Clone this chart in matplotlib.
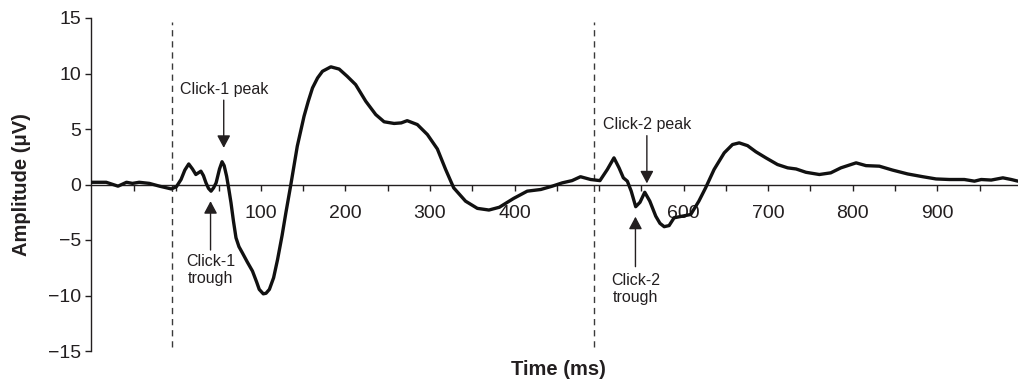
import numpy as np
import matplotlib
matplotlib.use("Agg")
import matplotlib.pyplot as plt

plt.rcParams['font.family'] = ['Liberation Sans', 'DejaVu Sans']

# waveform (time in ms, amplitude in microvolts)
time_ms = [
    -101, -83, -69, -59, -52, -44, -32, -20, -6, 0,
    5.5, 10, 14.6, 19, 23, 29, 32, 35, 38, 41,
    44, 47, 51, 54, 56.5, 59.4, 62, 64.6, 67.5, 70.5,
    74, 78, 84, 90, 95, 98, 102.8, 106, 110, 115,
    119.7, 125, 129.5, 135.4, 143, 151, 156, 161, 167, 172.8,
    182.7, 192.5, 202, 212, 224, 235.8, 245.7, 257.5, 266, 273,
    285, 296.9, 308.7, 318.5, 328, 342, 356, 369.7, 382, 399,
    415, 431, 444.6, 456.5, 468, 478, 490, 501, 509.7, 517.6,
    523.6, 528.7, 533.4, 538, 543.3, 548.4, 554, 560, 567, 572,
    577, 582.8, 588.7, 598.6, 608.4, 618, 626, 636, 648, 657.8,
    665.7, 675.6, 685.4, 697.3, 711, 723, 733, 744.7, 760.5, 774,
    786, 804, 815.7, 831.5, 847, 865, 883, 898.6, 914.4, 932,
    944, 952, 963.8, 977.6, 987.5, 995.5,
]
amplitude_uv = [
    0.2, 0.2, -0.15, 0.2, 0.1, 0.2, 0.1, -0.15, -0.4, -0.2,
    0.45, 1.3, 1.85, 1.4, 0.9, 1.2, 0.8, 0.15, -0.35, -0.6,
    -0.3, 0.15, 1.4, 2.05, 1.7, 0.75, -0.4, -1.65, -3.3, -4.8,
    -5.6, -6.15, -7.0, -7.8, -8.8, -9.45, -9.85, -9.8, -9.45, -8.4,
    -6.75, -4.6, -2.55, 0.0, 3.45, 6.15, 7.5, 8.7, 9.6, 10.2,
    10.6, 10.4, 9.75, 9.0, 7.5, 6.3, 5.65, 5.5, 5.55, 5.75,
    5.4, 4.5, 3.2, 1.35, -0.3, -1.5, -2.15, -2.3, -2.05, -1.25,
    -0.6, -0.45, -0.15, 0.15, 0.35, 0.7, 0.45, 0.35, 1.35, 2.4,
    1.5, 0.6, 0.3, -0.6, -2.0, -1.6, -0.7, -1.5, -2.85, -3.5,
    -3.8, -3.7, -3.0, -2.85, -2.7, -1.5, -0.3, 1.35, 2.85, 3.6,
    3.75, 3.5, 2.95, 2.4, 1.8, 1.5, 1.4, 1.1, 0.9, 1.05,
    1.5, 1.95, 1.7, 1.65, 1.3, 0.95, 0.7, 0.5, 0.45, 0.45,
    0.3, 0.45, 0.4, 0.6, 0.45, 0.3,
]

# click onsets (dashed lines)
click_onsets = [-5, 494]

# annotations: label, arrow tip (t, v), arrow tail (t, v), text position (t, v)
labels = ["Click-1 peak", "Click-1\ntrough", "Click-2 peak", "Click-2\ntrough"]
arrow_tips = [(56, 3.3), (40.4, -1.5), (556.5, 0.1), (543, -2.9)]
arrow_tails = [(56, 7.6), (40.4, -5.9), (556.5, 4.4), (543, -7.4)]
text_pos = [(56, 7.9), (40.4, -6.3), (556.5, 4.7), (543, -8.0)]
text_va = ["bottom", "top", "bottom", "top"]

x_ticks = list(range(-50, 1000, 50))
x_labels = ["100", "200", "300", "400", "600", "700", "800", "900"]
y_ticks = [-15, -10, -5, 0, 5, 10, 15]

ink = "#231f20"

fig = plt.figure(figsize=(10.18, 3.81), dpi=100)
ax = fig.add_axes([91 / 1018, 1 - 351 / 381, 927 / 1018, 333 / 381])

ax.plot(time_ms, amplitude_uv, color="#111111", lw=2.4,
        solid_joinstyle="round", solid_capstyle="round", zorder=3)

for t in click_onsets:
    ax.plot([t, t], [-14.6, 14.6], color="#3a3a3a", lw=1.0,
            dashes=(4.5, 3.5), zorder=2)

for lab, tip, tail, tp, va in zip(labels, arrow_tips, arrow_tails, text_pos, text_va):
    ax.annotate("", xy=tip, xytext=tail,
                arrowprops=dict(arrowstyle="-|>,head_length=0.75,head_width=0.4",
                                mutation_scale=10, lw=1.0, color=ink,
                                shrinkA=0, shrinkB=0), zorder=4)
    ax.text(tp[0], tp[1], lab, ha="center", va=va, fontsize=11.5,
            color=ink, linespacing=1.15)

ax.set_xlim(-101, 995.5)
ax.set_ylim(-15, 15)

for s in ["top", "right"]:
    ax.spines[s].set_visible(False)
ax.spines["bottom"].set_position(("data", 0))
ax.spines["bottom"].set_color(ink)
ax.spines["left"].set_color(ink)
ax.spines["bottom"].set_linewidth(1.0)
ax.spines["left"].set_linewidth(1.0)

ax.set_xticks(x_ticks)
ax.set_xticklabels([str(t) if str(t) in x_labels else "" for t in x_ticks])
ax.set_yticks(y_ticks)
ax.set_yticklabels([str(v).replace("-", "\u2212") for v in y_ticks])
ax.tick_params(axis="x", direction="out", length=4, width=1, pad=11,
               labelsize=14, colors=ink)
ax.tick_params(axis="y", direction="out", length=4, width=1, pad=3,
               labelsize=14, colors=ink)

fig.text(22 / 1018, 1 - 185 / 381, "Amplitude (\u03bcV)", rotation=90,
         ha="center", va="center", fontsize=14.5, fontweight="bold", color=ink)
fig.text(558 / 1018, 1 - 375 / 381, "Time (ms)", ha="center", va="baseline",
         fontsize=14.5, fontweight="bold", color=ink)

fig.savefig("out.png", dpi=100)
